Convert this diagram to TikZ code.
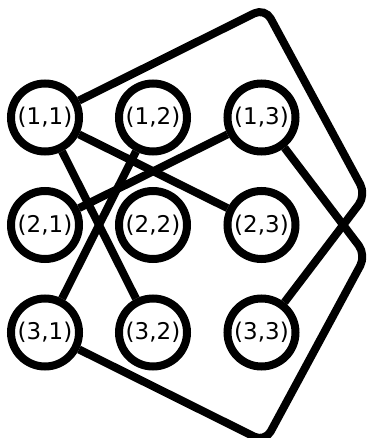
\documentclass[tikz,border=0pt]{standalone}
\usepackage{fontspec}
\setmainfont{DejaVu Sans}
\begin{document}
\begin{tikzpicture}[x=1pt,y=-1pt,
  vtx/.style={circle,draw,line width=8pt,fill=white,minimum size=68pt,inner sep=0pt,font=\fontsize{23}{25}\selectfont},
  edge/.style={line width=8pt,rounded corners=12pt}]
\useasboundingbox (0,0) rectangle (366,438);
\coordinate (top) at (265,8);
\coordinate (rt) at (366,195);
\coordinate (rb) at (366,255);
\coordinate (bot) at (265,442);
\node[vtx] (n11) at (45,117.5) {(1,1)};
\node[vtx] (n12) at (153,117.5) {(1,2)};
\node[vtx] (n13) at (261.5,117.5) {(1,3)};
\node[vtx] (n21) at (45,225) {(2,1)};
\node[vtx] (n22) at (153,225) {(2,2)};
\node[vtx] (n23) at (261.5,225) {(2,3)};
\node[vtx] (n31) at (45,332.5) {(3,1)};
\node[vtx] (n32) at (153,332.5) {(3,2)};
\node[vtx] (n33) at (261.5,332.5) {(3,3)};
\draw[edge] (n11) -- (n23);
\draw[edge] (n11) -- (n32);
\draw[edge] (n12) -- (n31);
\draw[edge] (n13) -- (n21);
\draw[edge] (n11) -- (top) -- (rt) -- (n33);
\draw[edge] (n31) -- (bot) -- (rb) -- (n13);
\end{tikzpicture}
\end{document}
